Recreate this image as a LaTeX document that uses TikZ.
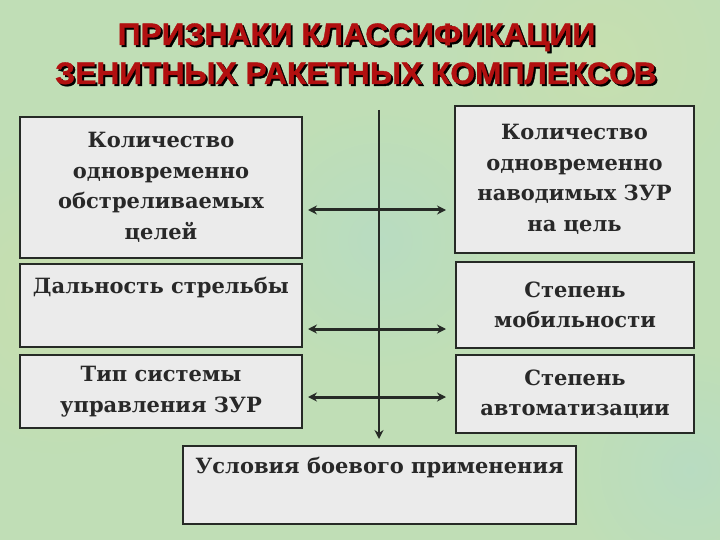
\documentclass[tikz,border=0pt]{standalone}
\usepackage{fontspec}
\setmainfont{DejaVu Serif}
\newfontfamily\titlefont[FakeStretch=1.025,FakeBold=1.2]{Liberation Sans}
\usetikzlibrary{arrows.meta,shadings}
\definecolor{bg}{RGB}{192,222,182}
\definecolor{bgy}{RGB}{205,224,170}
\definecolor{bgb}{RGB}{178,220,205}
\definecolor{boxfill}{RGB}{235,235,235}
\definecolor{boxline}{RGB}{38,42,38}
\definecolor{txt}{RGB}{40,40,40}
\definecolor{titlered}{RGB}{178,16,16}
\tikzset{
  crit/.style={draw=boxline, line width=2.6pt, fill=boxfill, text=txt,
    align=center, inner sep=0pt, font=\bfseries\fontsize{21}{30.5}\selectfont},
  link/.style={draw=boxline, line width=3pt, {Stealth[length=9pt,width=9pt]}-{Stealth[length=9pt,width=9pt]}},
  spine/.style={draw=boxline, line width=2.6pt, -{Stealth[length=9pt,width=9pt]}},
  ttl/.style={font=\titlefont\bfseries\fontsize{31}{39}\selectfont, anchor=base, inner sep=0pt}
}
\begin{document}
\begin{tikzpicture}[x=1pt,y=-1pt]
\useasboundingbox (0,0) rectangle (720,540);
\fill[bg] (0,0) rectangle (720,540);
\shade[inner color=bgy, outer color=bg, opacity=0.6] (60,300) circle (160);
\shade[inner color=bgb, outer color=bg, opacity=0.5] (380,240) circle (130);
\shade[inner color=bgb, outer color=bg, opacity=0.5] (690,470) circle (120);
\shade[inner color=bgy, outer color=bg, opacity=0.5] (600,60) circle (150);

% title
\node[ttl, text=black] (t1s) at (358.5,47) {ПРИЗНАКИ КЛАССИФИКАЦИИ};
\node[ttl, text=black] (t2s) at (358,86) {ЗЕНИТНЫХ РАКЕТНЫХ КОМПЛЕКСОВ};
\node[ttl, text=titlered] (t1) at (356.5,45) {ПРИЗНАКИ КЛАССИФИКАЦИИ};
\node[ttl, text=titlered] (t2) at (356,84) {ЗЕНИТНЫХ РАКЕТНЫХ КОМПЛЕКСОВ};

% boxes
\node[crit, minimum width=282pt, minimum height=141pt] (l1) at (161,187.5) {Количество\\одновременно\\обстреливаемых\\целей};
\node[crit, minimum width=239pt, minimum height=147pt] (r1) at (574.5,179.5) {Количество\\одновременно\\наводимых ЗУР\\на цель};
\node[crit, minimum width=282pt, minimum height=83pt] (l2) at (161,305.5) {Дальность стрельбы\\\strut};
\node[crit, minimum width=238pt, minimum height=86pt] (r2) at (575,305) {Степень\\мобильности};
\node[crit, minimum width=282pt, minimum height=73pt] (l3) at (161,391.5) {Тип системы\\управления ЗУР};
\node[crit, minimum width=238pt, minimum height=78pt] (r3) at (575,394) {Степень\\автоматизации};
\node[crit, minimum width=393pt, minimum height=78pt] (b) at (379.5,485) {Условия боевого применения\\\strut};

% spine
\coordinate (top) at (379,110);
\coordinate (bot) at (379,439);
\draw[spine] (top) -- (bot);

% links
\coordinate (a1) at (308,210); \coordinate (b1) at (446,210);
\coordinate (a2) at (308,329); \coordinate (b2) at (446,329);
\coordinate (a3) at (308,397); \coordinate (b3) at (446,397);
\draw[link] (a1) -- (b1);
\draw[link] (a2) -- (b2);
\draw[link] (a3) -- (b3);
\end{tikzpicture}
\end{document}
